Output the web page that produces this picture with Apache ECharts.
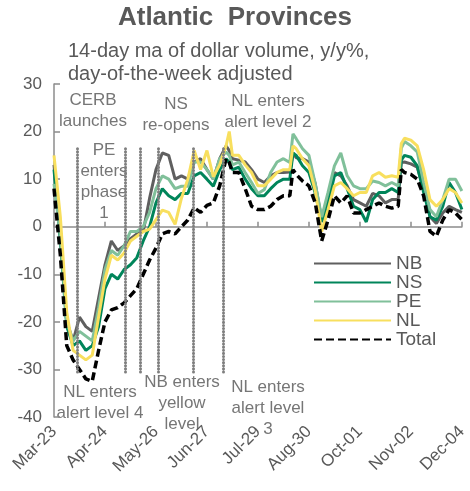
<!DOCTYPE html>
<html>
<head>
<meta charset="utf-8">
<script src="https://cdn.jsdelivr.net/npm/echarts@6/dist/echarts.min.js"></script>
<style>
  html, body { margin: 0; padding: 0; background: #fff; }
  #chart { width: 470px; height: 491px; }
</style>
</head>
<body>
<div id="chart"></div>
<script>
// Days since Mar-23 (daily series, sampled)
const days = [0,4,8,12,16,20,24,28,32,36,40,44,48,52,56,60,64,68,72,76,80,84,88,92,96,100,104,108,110,112,116,120,124,128,132,136,140,144,148,150,152,156,160,164,168,172,176,180,184,188,192,196,200,204,208,212,216,218,220,224,228,232,236,240,244,248,252,256];

// 14-day moving average of dollar volume, y/y %
const nb = [13,-2,-20,-24,-19,-21,-22,-15,-8,-3,-5,-4,-2.5,-1.5,-1,6,12,15.5,15,10,10.7,10,13.6,14.3,12,10,14.3,17,16,14.3,14,13.6,12,10,9.3,10.7,11.4,11.4,11.5,15.5,14.5,14.3,13.6,9,1.5,5.7,11.4,10.7,8.6,5.7,5,4.3,7,6.5,5,5.7,5.7,13.5,13.6,13.2,12.5,7.9,2.1,0.7,2.9,4.3,3.6,3];
const ns = [12,-3,-21,-25,-24,-26,-25,-21,-13,-10,-11,-9,-8,-6.5,-3,0,5,8,6.5,5.7,7,7,10.7,11.4,10,8.5,12,14.3,13.5,12,12.5,10,8,6.5,6.5,8,9.3,10,10,15.5,15,12.8,11.4,7,1,5,10.7,11.4,8,4.3,3.6,1,5.7,7.2,7.2,8,7.2,14,15,14.6,12.8,7.2,2.1,1.4,4.3,9.3,7.2,3.6];
const pe = [9,-2,-20,-24,-22,-23,-24,-17,-9,-5,-6,-4,-1,-1,0,3,8,10.7,10,8,8.5,8.5,13.6,13.6,12,10,14.3,15.7,15,13,13.6,11.4,9.3,7,7.8,11.4,13.6,14.3,13.5,19.5,18.5,16.4,15,9,2,7.2,12.8,15.5,10.7,8.6,8,8,9.6,9.3,8.6,9.3,8.6,16.5,17.9,17,15.7,9.3,3.6,2.1,5.7,10,10,7.5];
const nl = [15,2,-18,-26,-27,-28,-27,-19,-11,-6,-7,-5.5,-3,-2,-1,-0.5,1.5,3.5,3,0.5,6,10,16,12,16,10.5,13,17,20,15,15,13,11.4,8.6,8.6,10,11.4,12,12,17,16.4,14.3,12.8,7.5,-1,3.6,8.6,9.3,8,6.5,7.2,7.2,10.7,11.4,10.4,10.7,10.4,17.5,18.6,18.2,17,12,5.7,4.3,5.7,8,7.2,5];
const total = [8,-6,-25,-28,-30,-32,-32.5,-26,-20,-17.5,-17,-16,-14.5,-13,-10,-7,-4.5,-1.5,-1,-1.5,0,1.4,4,3,4.5,5,8.6,14.3,13.5,11.4,11.4,8,4.3,3.6,3.6,4.3,5.7,6.5,6.5,12,11,9.6,8.6,5,-3,1.4,6.5,5,6.5,2.9,2.9,3.6,4.3,5,4.3,3.9,4.3,12,11.4,11,10,6.5,-1,-2,1.4,3.6,2.9,1.5];

// Tick labels every 32 days
const tickLabels = ['Mar-23','Apr-24','May-26','Jun-27','Jul-29','Aug-30','Oct-01','Nov-02','Dec-04'];

// Policy event markers (day index) and their vertical extent (%)
const eventDays = [14.5, 45, 54, 65.5, 87.4, 106.3];
const eventTop = 16.4;
const eventBottom = -31;

const pairs = vals => days.map((d, i) => [d, vals[i]]);

const FONT = 'Liberation Sans, Arial, sans-serif';
const GREY = '#595959';
const NOTE = '#767676';

const chart = echarts.init(document.getElementById('chart'), null, { renderer: 'canvas' });

function note(text, x, y) {
  return {
    type: 'text', x: x, y: y,
    style: { text: text, fill: NOTE, font: '17px ' + FONT, textAlign: 'center', textVerticalAlign: 'top', lineHeight: 21 }
  };
}

const lineSeries = (name, vals, color, extra) => Object.assign({
  name: name, type: 'line', data: pairs(vals), symbol: 'none', showSymbol: false,
  xAxisIndex: 0, yAxisIndex: 0,
  lineStyle: { color: color, width: 3 }, itemStyle: { color: color },
  emphasis: { disabled: true }, animation: false
}, extra || {});

chart.setOption({
  animation: false,
  title: {
    text: 'Atlantic  Provinces', left: 'center', top: 0,
    textStyle: { fontFamily: FONT, fontSize: 26, fontWeight: 'bold', color: GREY }
  },
  grid: { left: 54, right: 8, top: 84, bottom: 74, containLabel: false },
  xAxis: [
    {
      type: 'value', min: 0, max: 256, interval: 32, position: 'top',
      axisLine: { show: true, onZero: true, lineStyle: { color: '#8c8c8c', width: 1.5 } },
      axisTick: { show: true, length: 5, lineStyle: { color: '#8c8c8c', width: 1.5 } },
      axisLabel: { show: false }, splitLine: { show: false }
    },
    {
      type: 'value', min: 0, max: 256, interval: 32, position: 'bottom',
      axisLine: { show: false, onZero: false }, axisTick: { show: false }, splitLine: { show: false },
      axisLabel: {
        rotate: 45, margin: 12, color: GREY, fontFamily: FONT, fontSize: 17,
        formatter: v => tickLabels[Math.round(v / 32)] || ''
      }
    }
  ],
  yAxis: {
    type: 'value', min: -40, max: 30, interval: 10,
    axisLine: { show: true, onZero: false, lineStyle: { color: '#8c8c8c', width: 1.5 } },
    axisTick: { show: true, inside: true, length: 6, lineStyle: { color: '#8c8c8c', width: 1.5 } },
    axisLabel: { color: GREY, fontFamily: FONT, fontSize: 17, margin: 12 },
    splitLine: { show: false }
  },
  legend: {
    orient: 'vertical', left: 308, top: 249, itemWidth: 77, itemHeight: 20, itemGap: 0,
    data: ['NB', 'NS', 'PE', 'NL', 'Total'],
    itemStyle: { opacity: 0 },
    textStyle: { color: GREY, fontFamily: FONT, fontSize: 19 },
    selectedMode: false
  },
  series: [
    {
      name: 'events', type: 'line', data: [], symbol: 'none', silent: true,
      markLine: {
        silent: true, symbol: ['none', 'none'], label: { show: false },
        lineStyle: { color: '#7f7f7f', width: 3, type: [0.1, 3], cap: 'round' },
        data: eventDays.map(d => [{ coord: [d, eventTop] }, { coord: [d, eventBottom] }])
      }
    },
    lineSeries('NB', nb, '#5f5f5f'),
    lineSeries('NS', ns, '#00855a'),
    lineSeries('PE', pe, '#80c09a'),
    lineSeries('NL', nl, '#f8df5e'),
    lineSeries('Total', total, '#000000', { lineStyle: { color: '#000', width: 3.5, type: [8, 4] } })
  ],
  graphic: [
    {
      type: 'text', x: 68, y: 40,
      style: { text: '14-day ma of dollar volume, y/y%,\nday-of-the-week adjusted', fill: GREY, font: '20px ' + FONT, lineHeight: 23, textVerticalAlign: 'top' }
    },
    note('CERB\nlaunches', 93, 90),
    note('PE\nenters\nphase\n1', 104, 140),
    note('NS\nre-opens', 176, 94),
    note('NL enters\nalert level 2', 268, 91),
    note('NL enters\nalert level 4', 100, 382),
    note('NB enters\nyellow\nlevel', 182, 372),
    note('NL enters\nalert level\n3', 268, 377)
  ]
});
</script>
</body>
</html>
